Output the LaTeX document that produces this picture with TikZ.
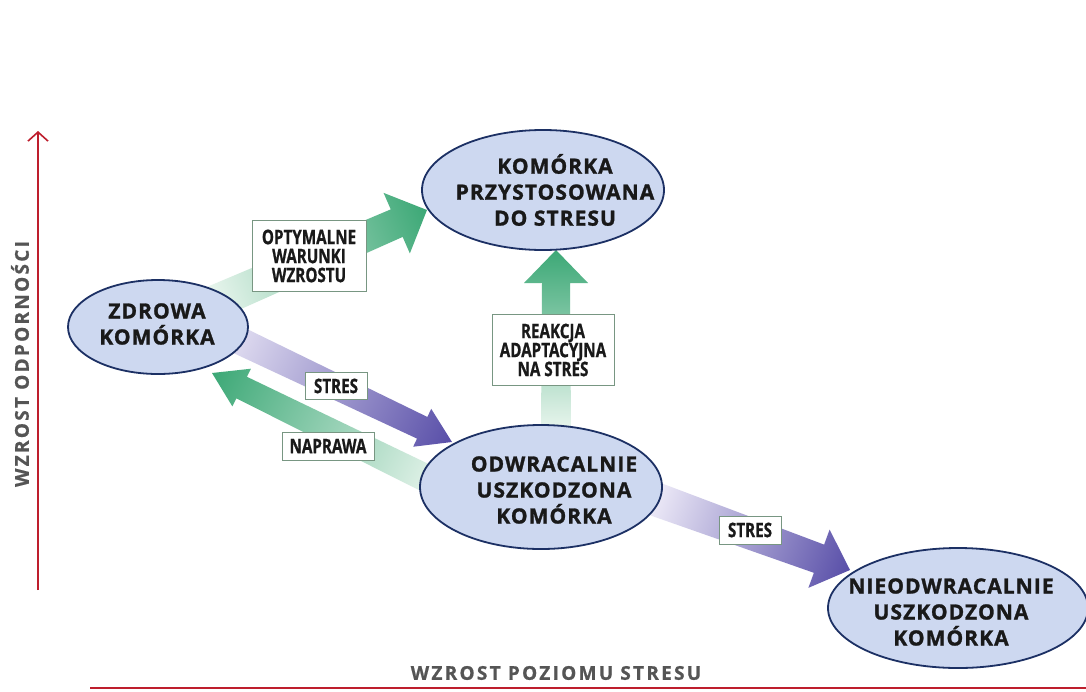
\documentclass[tikz,border=0pt]{standalone}
\usepackage{fontspec}
\setmainfont{Open Sans}
\newfontfamily\cellfont[LetterSpace=5,FakeBold=1.3]{Open Sans}
\newfontfamily\condfont[FakeStretch=0.76,FakeBold=0.8]{Open Sans}
\newfontfamily\axisfont[LetterSpace=12,FakeBold=0.8]{Open Sans}
\usetikzlibrary{shapes.geometric,arrows.meta,calc}
\definecolor{cellfill}{RGB}{205,216,240}
\definecolor{cellborder}{RGB}{28,48,100}
\definecolor{txt}{RGB}{25,25,25}
\definecolor{greenfull}{RGB}{60,168,118}
\definecolor{greenpale}{RGB}{232,245,237}
\definecolor{purplefull}{RGB}{88,78,168}
\definecolor{purplepale}{RGB}{236,233,247}
\definecolor{axisred}{RGB}{190,30,45}
\definecolor{axisgray}{RGB}{85,85,85}
\definecolor{tagborder}{RGB}{120,150,130}
% fat shaded arrow between two named coordinates
\newcommand\fatarrow[7]{%
  \path let \p1=($(#2)-(#1)$), \n1={atan2(\y1,\x1)}, \n2={veclen(\x1,\y1)} in
    \pgfextra{\pgfmathsetmacro\FAang{\n1}\global\let\FAang\FAang
              \pgfmathsetmacro\FAlen{\n2}\global\let\FAlen\FAlen};
  \begin{scope}[transform canvas={shift={(#1)},rotate=\FAang}]
    \shade[left color=#3,right color=#4]
      (0,-#5) -- ({\FAlen-33},-#6) -- ({\FAlen-33},-#7) -- (\FAlen,0)
      -- ({\FAlen-33},#7) -- ({\FAlen-33},#6) -- (0,#5) -- cycle;
  \end{scope}}
\begin{document}
\begin{tikzpicture}[x=1pt,y=-1pt,
  cell/.style={ellipse, draw=cellborder, fill=cellfill, line width=1.8pt, inner sep=0pt},
  celltext/.style={font={\cellfont\bfseries\fontsize{21}{26}\selectfont}, text=txt, align=center, inner sep=0pt},
  tag/.style={draw=tagborder, fill=white, line width=0.9pt, font={\condfont\bfseries\fontsize{20}{19}\selectfont}, text=txt, align=center, inner sep=2pt},
  axisline/.style={draw=axisred, line width=1.8pt},
  axislabel/.style={font={\axisfont\bfseries\fontsize{19}{19}\selectfont}, text=axisgray, inner sep=0pt}]
\useasboundingbox[fill=white] (0,0) rectangle (1086,691);

% axes
\coordinate (ya0) at (38,590); \coordinate (ya1) at (38,131);
\coordinate (xa0) at (90,688); \coordinate (xa1) at (1086,688);
\draw[axisline, -{Straight Barb[length=9pt,width=20pt,line width=1.6pt]}] (ya0) -- (ya1);
\draw[axisline, line width=2.2pt] (xa0) -- (xa1);
\node[axislabel, rotate=90] (ylab) at (20,364) {WZROST ODPORNOŚCI};
\node[axislabel] (xlab) at (556,673) {WZROST POZIOMU STRESU};

% arrows
\coordinate (s1) at (215,302); \coordinate (t1) at (427,210);
\coordinate (s2) at (215,329); \coordinate (t2) at (452,442);
\coordinate (s3) at (440,485); \coordinate (t3) at (212,373);
\coordinate (s4) at (556,428); \coordinate (t4) at (556,250);
\coordinate (s5) at (655,499); \coordinate (t5) at (850,570);
\fatarrow{s1}{t1}{greenpale}{greenfull}{17}{15}{33}
\fatarrow{s2}{t2}{purplepale}{purplefull}{14}{12}{21}
\fatarrow{s3}{t3}{greenpale}{greenfull}{14}{12}{21}
\fatarrow{s4}{t4}{greenpale}{greenfull}{15}{14}{32}
\fatarrow{s5}{t5}{purplepale}{purplefull}{17}{15}{31}

% cells
\node[cell, minimum width=180pt, minimum height=94pt] (zdr) at (158,327) {};
\node[celltext] (zdrt) at (157,324) {ZDROWA\\KOMÓRKA};
\node[cell, minimum width=242pt, minimum height=120pt] (prz) at (543,190) {};
\node[celltext] (przt) at (555,190) {KOMÓRKA\\PRZYSTOSOWANA\\DO STRESU};
\node[cell, minimum width=242pt, minimum height=124pt] (odw) at (541,487) {};
\node[celltext] (odwt) at (554,490) {ODWRACALNIE\\USZKODZONA\\KOMÓRKA};
\node[cell, minimum width=260pt, minimum height=120pt] (nie) at (958,608) {};
\node[celltext] (niet) at (951,612) {NIEODWRACALNIE\\USZKODZONA\\KOMÓRKA};

% tags
\node[tag, minimum width=114pt, minimum height=71pt] (opt) at (309,256) {OPTYMALNE\\WARUNKI\\WZROSTU};
\node[tag, minimum width=62pt, minimum height=27pt] (str1) at (336,386) {STRES};
\node[tag, minimum width=92pt, minimum height=28pt] (napr) at (328,446) {NAPRAWA};
\node[tag, minimum width=122pt, minimum height=71pt] (reak) at (553,350) {REAKCJA\\ADAPTACYJNA\\NA STRES};
\node[tag, minimum width=62pt, minimum height=28pt] (str2) at (750,530) {STRES};
\end{tikzpicture}
\end{document}
